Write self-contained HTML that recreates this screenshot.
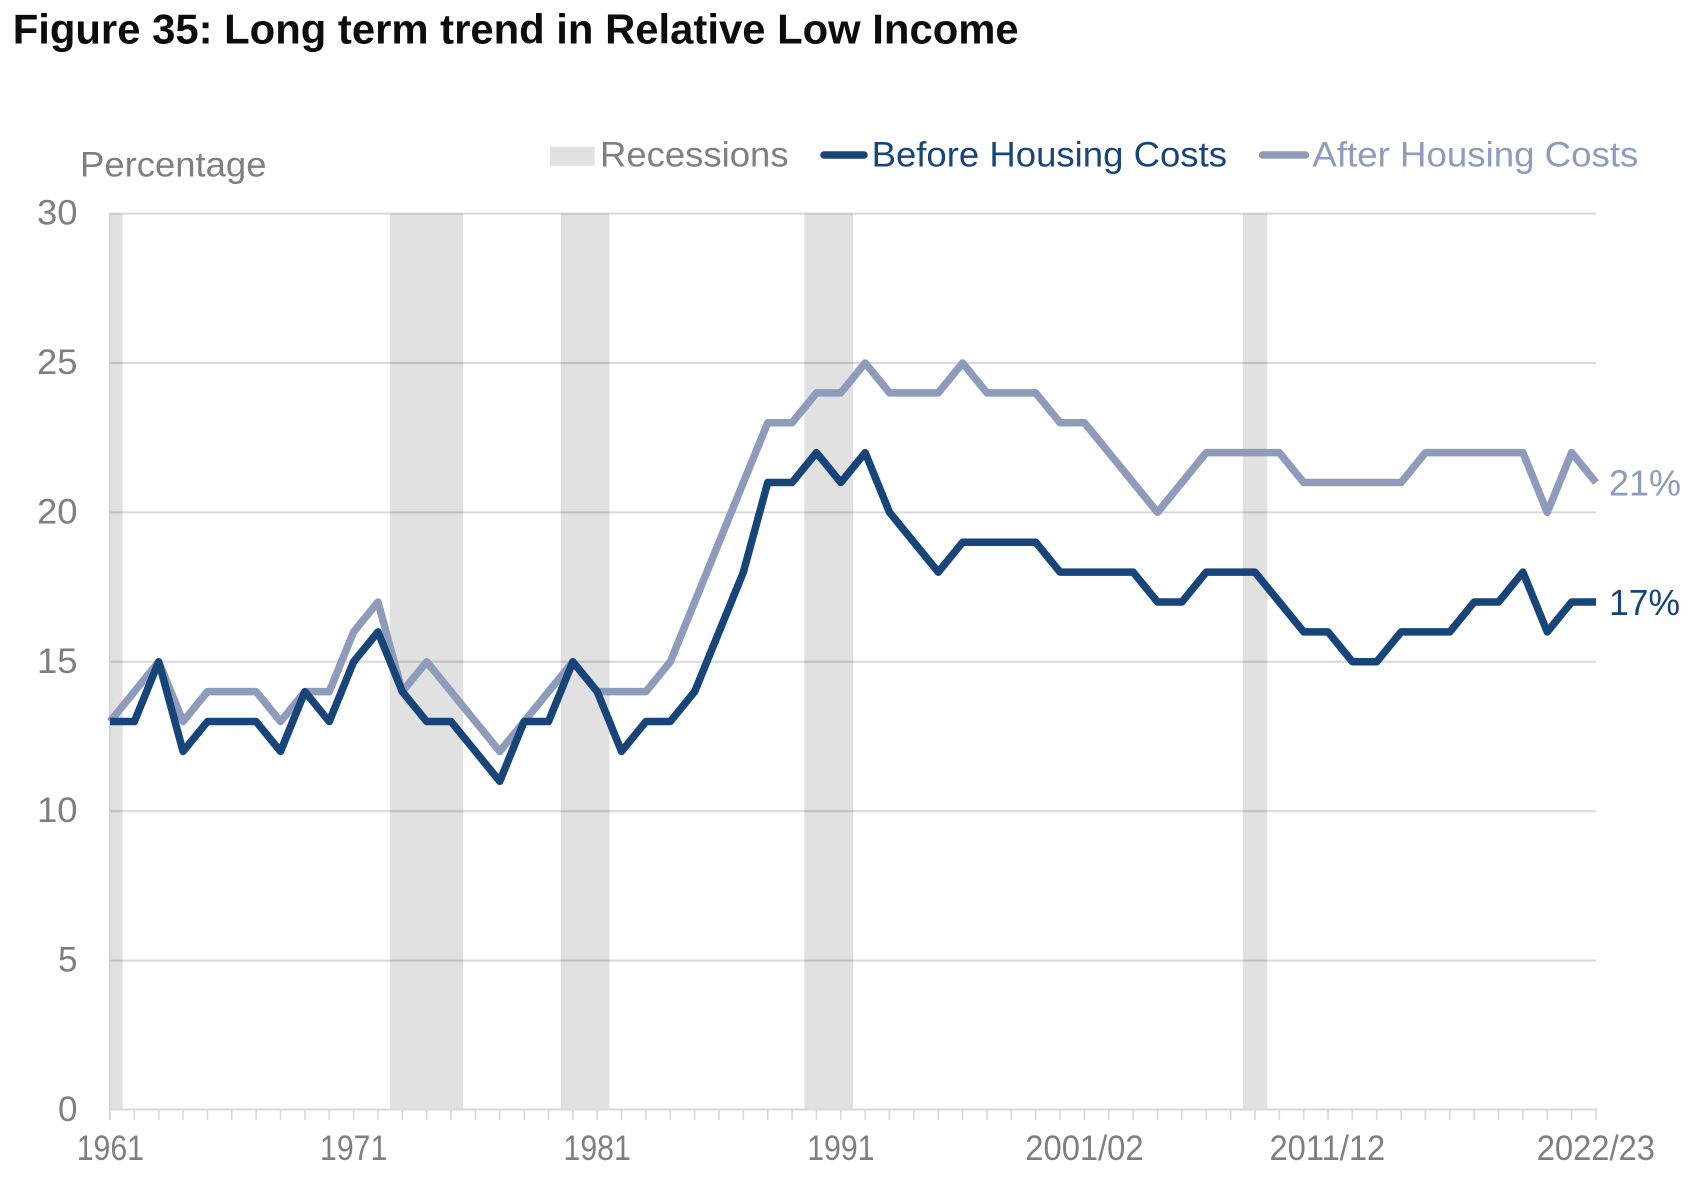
<!DOCTYPE html>
<html>
<head>
<meta charset="utf-8">
<style>
  html,body{margin:0;padding:0;background:#fff;}
  svg{display:block;}
  text{font-family:"Liberation Sans", Arial, sans-serif;}
</style>
</head>
<body>
<svg width="1698" height="1185" viewBox="0 0 1698 1185" xmlns="http://www.w3.org/2000/svg">
  <rect x="0" y="0" width="1698" height="1185" fill="#ffffff"/>

  <text x="12.7" y="43.3" font-size="42" font-weight="bold" fill="#0b0c0c" textLength="1006" lengthAdjust="spacingAndGlyphs">Figure 35: Long term trend in Relative Low Income</text>

  <text x="80" y="176.7" font-size="35" fill="#7f7f7f" textLength="186.5" lengthAdjust="spacingAndGlyphs">Percentage</text>

  <rect x="550" y="146.7" width="44.6" height="19" fill="#e1e1e1"/>
  <text x="600" y="166.7" font-size="35" fill="#7f7f7f" textLength="188.6" lengthAdjust="spacingAndGlyphs">Recessions</text>
  <line x1="824" y1="155" x2="864" y2="155" stroke="#17457a" stroke-width="7.5" stroke-linecap="round"/>
  <text x="871.6" y="166.7" font-size="35" fill="#17457a" textLength="355.4" lengthAdjust="spacingAndGlyphs">Before Housing Costs</text>
  <line x1="1262.5" y1="155" x2="1305.5" y2="155" stroke="#8e9bbb" stroke-width="7.5" stroke-linecap="round"/>
  <text x="1312.4" y="166.7" font-size="35" fill="#8e9bbb" textLength="326" lengthAdjust="spacingAndGlyphs">After Housing Costs</text>

  <g fill="#e1e1e1">
    <rect x="110" y="213.6" width="12.7" height="895.9"/>
    <rect x="390.1" y="213.6" width="73.1" height="895.9"/>
    <rect x="560.7" y="213.6" width="48.7" height="895.9"/>
    <rect x="804.3" y="213.6" width="48.7" height="895.9"/>
    <rect x="1242.8" y="213.6" width="24.4" height="895.9"/>
  </g>

  <g stroke="#000" stroke-opacity="0.15" stroke-width="2">
    <line x1="110" y1="213.6" x2="1596" y2="213.6"/>
    <line x1="110" y1="363" x2="1596" y2="363"/>
    <line x1="110" y1="512.4" x2="1596" y2="512.4"/>
    <line x1="110" y1="661.8" x2="1596" y2="661.8"/>
    <line x1="110" y1="811.2" x2="1596" y2="811.2"/>
    <line x1="110" y1="960.6" x2="1596" y2="960.6"/>
  </g>

  <line x1="110" y1="213" x2="110" y2="1120" stroke="#d4d4d4" stroke-width="2"/>
  <line x1="109" y1="1109.5" x2="1597" y2="1109.5" stroke="#d9d9d9" stroke-width="2"/>
  <path fill="none" stroke="#d9d9d9" stroke-width="1.6" d="M110 1109V1120M134.36 1109V1120M158.72 1109V1120M183.08 1109V1120M207.44 1109V1120M231.80 1109V1120M256.16 1109V1120M280.52 1109V1120M304.89 1109V1120M329.25 1109V1120M353.61 1109V1120M377.97 1109V1120M402.33 1109V1120M426.69 1109V1120M451.05 1109V1120M475.41 1109V1120M499.77 1109V1120M524.13 1109V1120M548.49 1109V1120M572.85 1109V1120M597.21 1109V1120M621.57 1109V1120M645.93 1109V1120M670.30 1109V1120M694.66 1109V1120M719.02 1109V1120M743.38 1109V1120M767.74 1109V1120M792.10 1109V1120M816.46 1109V1120M840.82 1109V1120M865.18 1109V1120M889.54 1109V1120M913.90 1109V1120M938.26 1109V1120M962.62 1109V1120M986.98 1109V1120M1011.34 1109V1120M1035.71 1109V1120M1060.07 1109V1120M1084.43 1109V1120M1108.79 1109V1120M1133.15 1109V1120M1157.51 1109V1120M1181.87 1109V1120M1206.23 1109V1120M1230.59 1109V1120M1254.95 1109V1120M1279.31 1109V1120M1303.67 1109V1120M1328.03 1109V1120M1352.39 1109V1120M1376.75 1109V1120M1401.12 1109V1120M1425.48 1109V1120M1449.84 1109V1120M1474.20 1109V1120M1498.56 1109V1120M1522.92 1109V1120M1547.28 1109V1120M1571.64 1109V1120M1596 1109V1120"/>

  <g font-size="35" fill="#7f7f7f">
    <text x="37" y="224.6" textLength="40.5" lengthAdjust="spacingAndGlyphs">30</text>
    <text x="37" y="374" textLength="40.5" lengthAdjust="spacingAndGlyphs">25</text>
    <text x="37" y="523.4" textLength="40.5" lengthAdjust="spacingAndGlyphs">20</text>
    <text x="37" y="672.8" textLength="40.5" lengthAdjust="spacingAndGlyphs">15</text>
    <text x="37" y="822.2" textLength="40.5" lengthAdjust="spacingAndGlyphs">10</text>
    <text x="58" y="971.6" textLength="19.5" lengthAdjust="spacingAndGlyphs">5</text>
    <text x="58" y="1121" textLength="19.5" lengthAdjust="spacingAndGlyphs">0</text>
  </g>

  <g font-size="35" fill="#7f7f7f">
    <text x="76.7" y="1160" textLength="67.3" lengthAdjust="spacingAndGlyphs">1961</text>
    <text x="320" y="1160" textLength="67.3" lengthAdjust="spacingAndGlyphs">1971</text>
    <text x="563.5" y="1160" textLength="67.3" lengthAdjust="spacingAndGlyphs">1981</text>
    <text x="807.2" y="1160" textLength="67.3" lengthAdjust="spacingAndGlyphs">1991</text>
    <text x="1025.3" y="1160" textLength="118.3" lengthAdjust="spacingAndGlyphs">2001/02</text>
    <text x="1269.5" y="1160" textLength="115.7" lengthAdjust="spacingAndGlyphs">2011/12</text>
    <text x="1536.7" y="1160" textLength="118.3" lengthAdjust="spacingAndGlyphs">2022/23</text>
  </g>

  <polyline fill="none" stroke="#8e9bbb" stroke-width="7.5" stroke-linejoin="round" stroke-linecap="butt"
    points="110,721.56 134.36,691.68 158.72,661.80 183.08,721.56 207.44,691.68 231.80,691.68 256.16,691.68 280.52,721.56 304.89,691.68 329.25,691.68 353.61,631.92 377.97,602.04 402.33,691.68 426.69,661.80 451.05,691.68 475.41,721.56 499.77,751.44 524.13,721.56 548.49,691.68 572.85,661.80 597.21,691.68 621.57,691.68 645.93,691.68 670.30,661.80 694.66,602.04 719.02,542.28 743.38,482.52 767.74,422.76 792.10,422.76 816.46,392.88 840.82,392.88 865.18,363.00 889.54,392.88 913.90,392.88 938.26,392.88 962.62,363.00 986.98,392.88 1011.34,392.88 1035.71,392.88 1060.07,422.76 1084.43,422.76 1108.79,452.64 1133.15,482.52 1157.51,512.40 1181.87,482.52 1206.23,452.64 1230.59,452.64 1254.95,452.64 1279.31,452.64 1303.67,482.52 1328.03,482.52 1352.39,482.52 1376.75,482.52 1401.12,482.52 1425.48,452.64 1449.84,452.64 1474.20,452.64 1498.56,452.64 1522.92,452.64 1547.28,512.40 1571.64,452.64 1596.00,482.52"/>

  <polyline fill="none" stroke="#17457a" stroke-width="7.5" stroke-linejoin="round" stroke-linecap="butt"
    points="110,721.56 134.36,721.56 158.72,661.80 183.08,751.44 207.44,721.56 231.80,721.56 256.16,721.56 280.52,751.44 304.89,691.68 329.25,721.56 353.61,661.80 377.97,631.92 402.33,691.68 426.69,721.56 451.05,721.56 475.41,751.44 499.77,781.32 524.13,721.56 548.49,721.56 572.85,661.80 597.21,691.68 621.57,751.44 645.93,721.56 670.30,721.56 694.66,691.68 719.02,631.92 743.38,572.16 767.74,482.52 792.10,482.52 816.46,452.64 840.82,482.52 865.18,452.64 889.54,512.40 913.90,542.28 938.26,572.16 962.62,542.28 986.98,542.28 1011.34,542.28 1035.71,542.28 1060.07,572.16 1084.43,572.16 1108.79,572.16 1133.15,572.16 1157.51,602.04 1181.87,602.04 1206.23,572.16 1230.59,572.16 1254.95,572.16 1279.31,602.04 1303.67,631.92 1328.03,631.92 1352.39,661.80 1376.75,661.80 1401.12,631.92 1425.48,631.92 1449.84,631.92 1474.20,602.04 1498.56,602.04 1522.92,572.16 1547.28,631.92 1571.64,602.04 1596.00,602.04"/>

  <text x="1609" y="495.7" font-size="36" fill="#8e9bbb" textLength="72" lengthAdjust="spacingAndGlyphs">21%</text>
  <text x="1609" y="615" font-size="36" fill="#17457a" textLength="71" lengthAdjust="spacingAndGlyphs">17%</text>
</svg>
</body>
</html>
